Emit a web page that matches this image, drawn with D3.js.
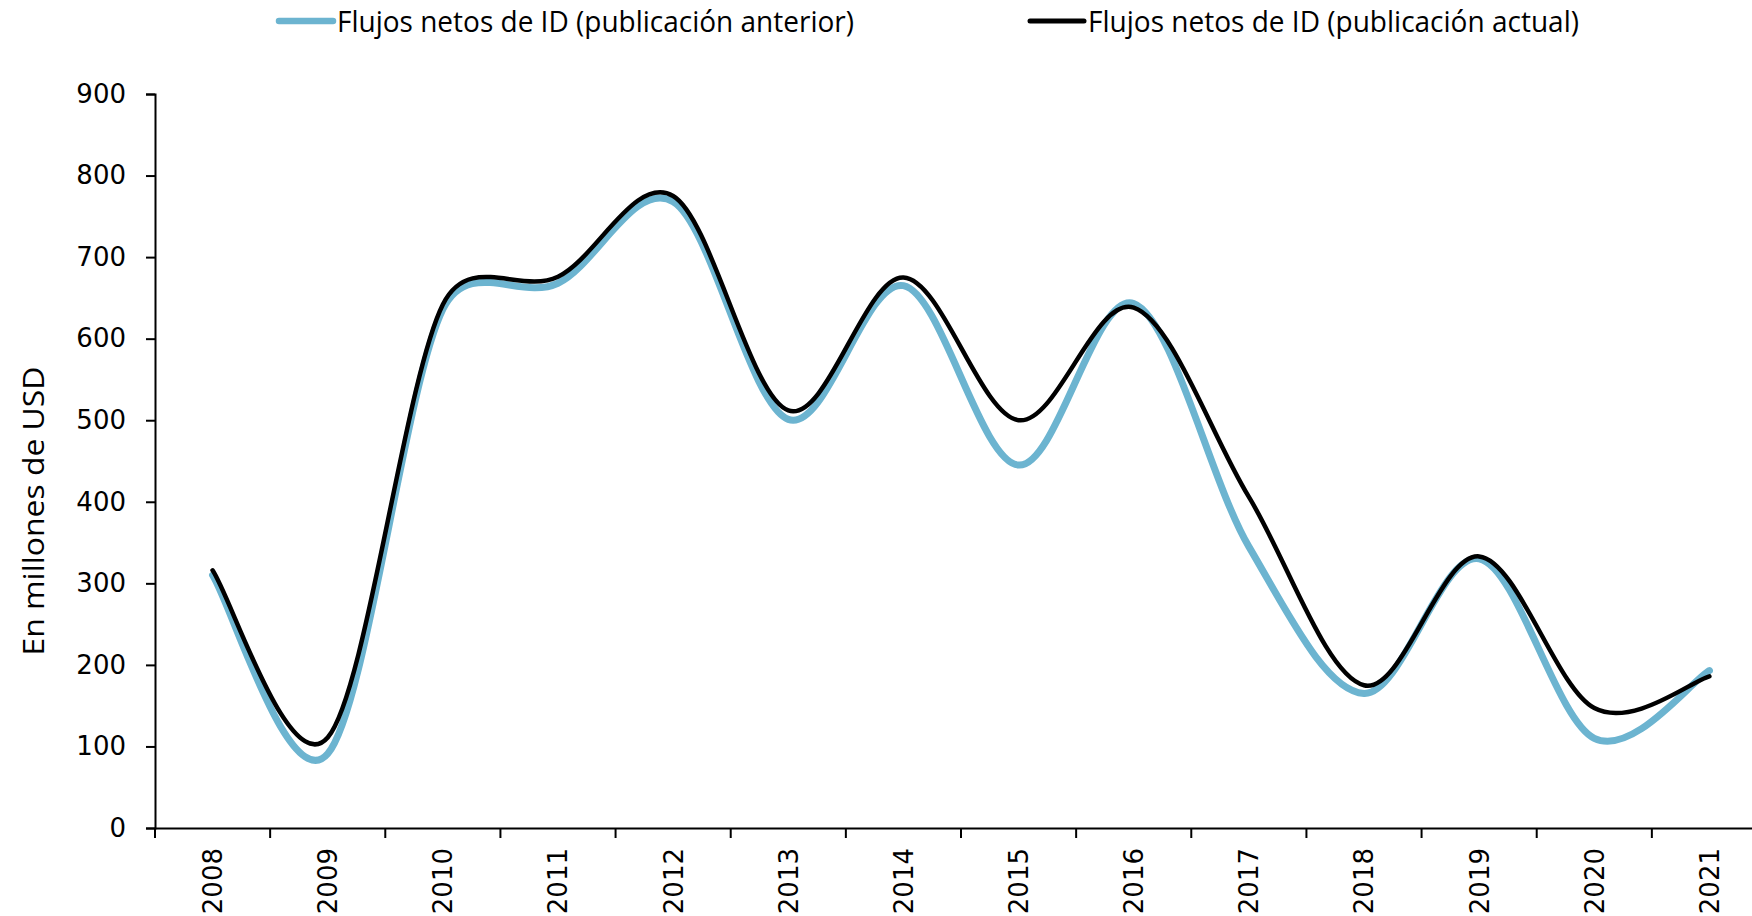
<!DOCTYPE html>
<html>
<head>
<meta charset="utf-8">
<script src="https://cdn.jsdelivr.net/npm/d3@7"></script>
<style>
  body { margin: 0; background: #fff; }
  svg { display: block; }
</style>
</head>
<body>
<div class="chart"></div>
<script>
// chart data
var years = ["2008", "2009", "2010", "2011", "2012", "2013", "2014", "2015", "2016", "2017", "2018", "2019", "2020", "2021"];
var anterior = [310, 91, 636, 668, 768, 501, 665, 445, 643, 345, 165, 330, 110, 193];
var actual = [316, 111, 642, 676, 775, 512, 675, 500, 638, 406, 175, 333, 147, 186];
var yTicks = [0, 100, 200, 300, 400, 500, 600, 700, 800, 900];
var seriesNames = ["Flujos netos de ID (publicación anterior)", "Flujos netos de ID (publicación actual)"];

var svgWidth = 1752;
var svgHeight = 916;

var margin = { top: 94, left: 155, bottom: 88 };
var plotRight = 1767; // last band runs past the picture edge, like the original

var svg = d3.select(".chart")
  .append("svg")
  .attr("width", svgWidth)
  .attr("height", svgHeight);

var xScale = d3.scaleBand()
  .domain(years)
  .range([margin.left, plotRight]);

var yScale = d3.scaleLinear()
  .domain([0, 900])
  .range([svgHeight - margin.bottom, margin.top]);

var labelFont = "DejaVu Sans, Verdana, sans-serif";
var titleFont = "Liberation Sans Narrow, Open Sans, sans-serif";

// y axis
var yAxis = svg.append("g")
  .attr("transform", `translate(${margin.left}, 0)`)
  .call(d3.axisLeft(yScale).tickValues(yTicks).tickSize(9).tickPadding(20).tickFormat(d3.format("d")));

yAxis.select(".domain").attr("stroke", "#000").attr("stroke-width", 2);
yAxis.selectAll(".tick line").attr("stroke", "#000").attr("stroke-width", 2);
yAxis.selectAll(".tick text")
  .attr("fill", "#000")
  .style("font-family", labelFont)
  .style("font-size", "26px");

// x axis
var xAxis = svg.append("g")
  .attr("transform", `translate(0, ${yScale(0)})`)
  .call(d3.axisBottom(xScale).tickSize(0).tickFormat(""));

xAxis.select(".domain").attr("stroke", "#000").attr("stroke-width", 2);

// tick marks sit on band edges
svg.append("g")
  .selectAll("line")
  .data(years)
  .enter()
  .append("line")
  .attr("x1", d => xScale(d))
  .attr("x2", d => xScale(d))
  .attr("y1", yScale(0))
  .attr("y2", yScale(0) + 10)
  .attr("stroke", "#000")
  .attr("stroke-width", 2);

// rotated year labels
svg.append("g")
  .selectAll("text")
  .data(years)
  .enter()
  .append("text")
  .attr("transform", d => `translate(${xScale(d) + xScale.bandwidth() / 2}, ${yScale(0) + 20}) rotate(-90)`)
  .attr("text-anchor", "end")
  .attr("dy", "0.36em")
  .style("font-family", labelFont)
  .style("font-size", "26px")
  .attr("fill", "#000")
  .text(d => d);

// y axis title
svg.append("text")
  .attr("transform", `translate(33, 511) rotate(-90)`)
  .attr("text-anchor", "middle")
  .attr("dy", "0.35em")
  .attr("textLength", 289)
  .attr("lengthAdjust", "spacingAndGlyphs")
  .style("font-family", titleFont)
  .style("font-size", "30px")
  .attr("fill", "#000")
  .text("En millones de USD");

// spreadsheet style smoothing: bezier with tangents of 1/6 of the neighbour chord,
// capped at half the length of the segment
function smoothPath(values) {
  var pts = values.map((v, i) => [xScale(years[i]) + xScale.bandwidth() / 2, yScale(v)]);
  var n = pts.length;
  var dist = (a, b) => Math.hypot(b[0] - a[0], b[1] - a[1]);
  var path = d3.path();
  path.moveTo(pts[0][0], pts[0][1]);
  for (var i = 0; i < n - 1; i++) {
    var p0 = pts[Math.max(i - 1, 0)], p1 = pts[i], p2 = pts[i + 1], p3 = pts[Math.min(i + 2, n - 1)];
    var seg = dist(p1, p2);
    var t1 = [(p2[0] - p0[0]) / 6, (p2[1] - p0[1]) / 6];
    var t2 = [(p3[0] - p1[0]) / 6, (p3[1] - p1[1]) / 6];
    var l1 = Math.hypot(t1[0], t1[1]), l2 = Math.hypot(t2[0], t2[1]);
    if (l1 > seg / 2) { t1 = [t1[0] * seg / 2 / l1, t1[1] * seg / 2 / l1]; }
    if (l2 > seg / 2) { t2 = [t2[0] * seg / 2 / l2, t2[1] * seg / 2 / l2]; }
    path.bezierCurveTo(p1[0] + t1[0], p1[1] + t1[1], p2[0] - t2[0], p2[1] - t2[1], p2[0], p2[1]);
  }
  return path.toString();
}

svg.append("path")
  .attr("d", smoothPath(anterior))
  .attr("fill", "none")
  .attr("stroke", "#6cb4d0")
  .attr("stroke-width", 7)
  .attr("stroke-linecap", "round");

svg.append("path")
  .attr("d", smoothPath(actual))
  .attr("fill", "none")
  .attr("stroke", "#000")
  .attr("stroke-width", 4.5)
  .attr("stroke-linecap", "round");

// legend
var legendItems = [
  { name: seriesNames[0], color: "#6cb4d0", width: 6.5, x1: 279, x2: 333, tx: 337, tl: 517 },
  { name: seriesNames[1], color: "#000", width: 5, x1: 1030, x2: 1084, tx: 1088, tl: 491 }
];

var legend = svg.append("g");

legend.selectAll("line")
  .data(legendItems)
  .enter()
  .append("line")
  .attr("x1", d => d.x1)
  .attr("x2", d => d.x2)
  .attr("y1", 21)
  .attr("y2", 21)
  .attr("stroke", d => d.color)
  .attr("stroke-width", d => d.width)
  .attr("stroke-linecap", "round");

legend.selectAll("text")
  .data(legendItems)
  .enter()
  .append("text")
  .attr("x", d => d.tx)
  .attr("y", 21)
  .attr("dy", "0.35em")
  .attr("textLength", d => d.tl)
  .attr("lengthAdjust", "spacingAndGlyphs")
  .style("font-family", titleFont)
  .style("font-size", "30px")
  .attr("fill", "#000")
  .text(d => d.name);
</script>
</body>
</html>
